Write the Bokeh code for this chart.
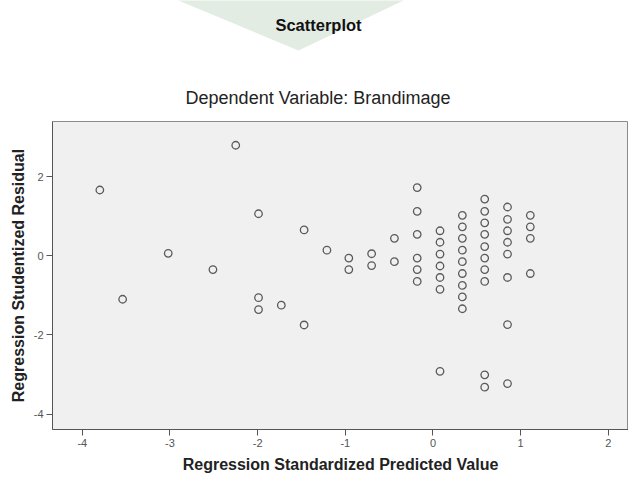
from bokeh.plotting import figure
from bokeh.models import Label, FixedTicker, Range1d
from bokeh.layouts import column
from bokeh.embed import file_html
from bokeh.resources import INLINE

# Regression Standardized Predicted Value
pred = [-3.80, -3.54, -3.02, -2.51, -2.25, -1.99, -1.99, -1.99, -1.73,
        -1.47, -1.47, -1.21, -0.96, -0.96, -0.70, -0.70, -0.44, -0.44,
        -0.18, -0.18, -0.18, -0.18, -0.18, -0.18,
        0.08, 0.08, 0.08, 0.08, 0.08, 0.08, 0.08,
        0.335, 0.335, 0.335, 0.335, 0.335, 0.335, 0.335, 0.335, 0.335,
        0.59, 0.59, 0.59, 0.59, 0.59, 0.59, 0.59, 0.59, 0.59, 0.59,
        0.85, 0.85, 0.85, 0.85, 0.85, 0.85, 0.85, 0.85,
        1.11, 1.11, 1.11, 1.11]
# Regression Studentized Residual
resid = [1.66, -1.10, 0.06, -0.35, 2.79, 1.06, -1.06, -1.36, -1.25,
         0.65, -1.75, 0.14, -0.06, -0.35, 0.05, -0.25, 0.44, -0.15,
         1.72, 1.12, 0.54, -0.06, -0.35, -0.65,
         0.63, 0.34, 0.04, -0.26, -0.55, -0.85, -2.92,
         1.02, 0.73, 0.44, 0.14, -0.15, -0.45, -0.75, -1.04, -1.34,
         1.43, 1.12, 0.83, 0.54, 0.23, -0.06, -0.35, -0.65, -3.01, -3.32,
         1.23, 0.92, 0.63, 0.34, 0.04, -0.55, -1.74, -3.23,
         1.02, 0.73, 0.44, -0.45]

x_ticks = [-4, -3, -2, -1, 0, 1, 2]
x_tick_labels = ["-4", "-3", "-2", "-1", "0", "1", "2"]
y_ticks = [-4, -2, 0, 2]
y_tick_labels = ["-4", "-2", "0", "2"]

chart_title = "Scatterplot"
chart_subtitle = "Dependent Variable: Brandimage"
x_label = "Regression Standardized Predicted Value"
y_label = "Regression Studentized Residual"

FONT = "Liberation Sans"

# ---- heading strip (with faint watermark decoration) ----
# its frame is aligned with the scatter plot's frame (which starts 52px in)
head = figure(width=628, height=110, output_backend="svg", toolbar_location=None,
              x_range=Range1d(52, 628), y_range=Range1d(110, 0),
              x_axis_location=None, y_axis_location=None,
              min_border=0, min_border_left=0, min_border_right=0,
              min_border_top=0, min_border_bottom=0)
head.grid.visible = False
head.outline_line_color = None
head.background_fill_color = "white"
head.border_fill_color = "white"

wm_xs = [130, 298, 445]
wm_ys = [-20, 50, -20]
head.patch(wm_xs, wm_ys, fill_color="#e2ece2", line_color=None)

head.add_layout(Label(x=318, y=24, text=chart_title, text_font=FONT,
                      text_font_size="16.5px", text_font_style="bold",
                      text_color="#111111", text_align="center",
                      text_baseline="middle"))
head.add_layout(Label(x=317.5, y=97, text=chart_subtitle, text_font=FONT,
                      text_font_size="18px", text_font_style="normal",
                      text_color="#222222", text_align="center",
                      text_baseline="middle"))

# ---- scatter plot ----
p = figure(width=628, height=367, output_backend="svg", toolbar_location=None,
           x_range=Range1d(-4.34, 2.23), y_range=Range1d(-4.39, 3.39),
           min_border_left=52, min_border_right=0, min_border_top=11,
           min_border_bottom=48)

p.background_fill_color = "#f0f0f0"
p.border_fill_color = "white"
p.outline_line_color = "#8c8c8c"
p.grid.visible = False

p.scatter(pred, resid, size=7.5, marker="circle", fill_color=None,
          line_color="#5a5a5a", line_width=1.3)

for ax in (p.xaxis, p.yaxis):
    ax.major_tick_out = 6
    ax.major_tick_in = 0
    ax.minor_tick_out = 0
    ax.minor_tick_in = 0
    ax.axis_line_color = "#555555"
    ax.major_tick_line_color = "#555555"
    ax.major_label_text_font = FONT
    ax.major_label_text_font_size = "11px"
    ax.major_label_text_color = "#555555"
    ax.axis_label_text_font = FONT
    ax.axis_label_text_font_size = "16px"
    ax.axis_label_text_font_style = "bold"
    ax.axis_label_text_color = "#222222"

p.xaxis.ticker = FixedTicker(ticks=x_ticks)
p.yaxis.ticker = FixedTicker(ticks=y_ticks)
p.xaxis.major_label_overrides = dict(zip(x_ticks, x_tick_labels))
p.yaxis.major_label_overrides = dict(zip(y_ticks, y_tick_labels))
p.xaxis.major_label_standoff = 3
p.yaxis.major_label_standoff = 3
p.xaxis.axis_label_standoff = 6
p.yaxis.axis_label_standoff = 4
p.xaxis.axis_label = x_label
p.yaxis.axis_label = y_label

layout = column(head, p, spacing=0)
open("out.html", "w").write(file_html(layout, INLINE))
